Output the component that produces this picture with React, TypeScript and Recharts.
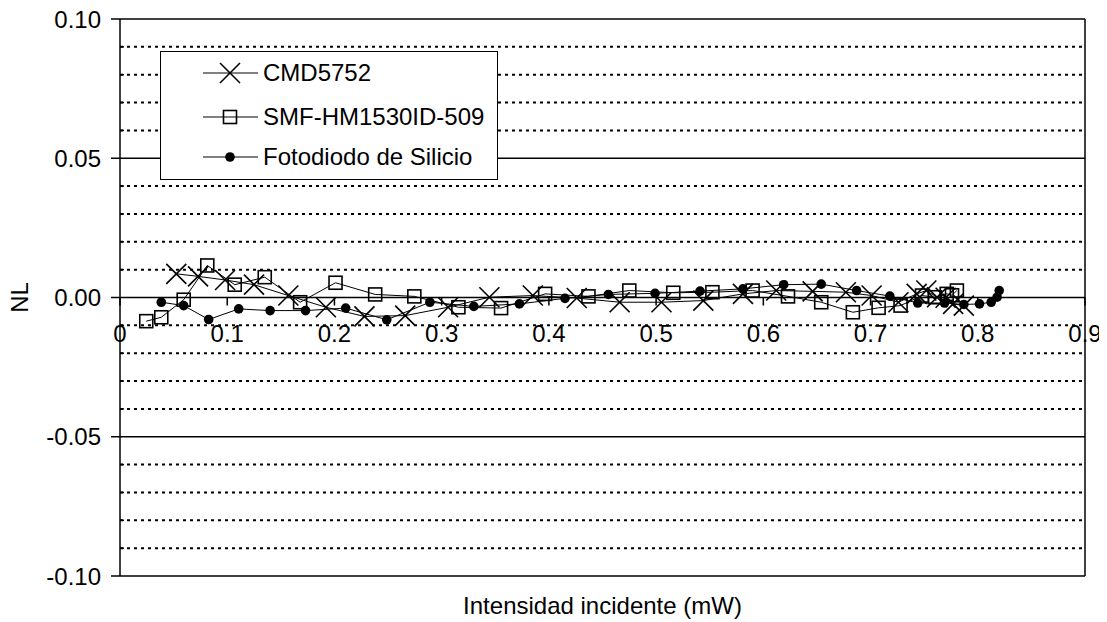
import React from 'react';
import { ComposedChart, Line, XAxis, YAxis, ReferenceLine, Legend } from 'recharts';

const cmd5752 = [
  { x: 0.0525, y: 0.0085 }, { x: 0.0728, y: 0.0076 }, { x: 0.098, y: 0.0063 }, { x: 0.125, y: 0.0046 },
  { x: 0.157, y: 0.0007 }, { x: 0.192, y: -0.0035 }, { x: 0.228, y: -0.0068 }, { x: 0.266, y: -0.0065 },
  { x: 0.306, y: -0.0035 }, { x: 0.3445, y: 0.0001 }, { x: 0.385, y: 0.0007 }, { x: 0.426, y: -0.0002 },
  { x: 0.466, y: -0.0017 }, { x: 0.505, y: -0.0017 }, { x: 0.544, y: -0.0011 }, { x: 0.581, y: 0.0013 },
  { x: 0.612, y: 0.0025 }, { x: 0.646, y: 0.0022 }, { x: 0.677, y: 0.0019 }, { x: 0.701, y: 0.0007 },
  { x: 0.726, y: -0.0017 }, { x: 0.743, y: 0.0013 }, { x: 0.752, y: 0.0025 }, { x: 0.762, y: 0.0001 },
  { x: 0.77, y: -0.0001 }, { x: 0.777, y: -0.0023 }, { x: 0.787, y: -0.0029 },
];

const smf = [
  { x: 0.0245, y: -0.0085 }, { x: 0.0385, y: -0.0071 }, { x: 0.0594, y: -0.0008 }, { x: 0.0814, y: 0.0115 },
  { x: 0.107, y: 0.0046 }, { x: 0.135, y: 0.0073 }, { x: 0.168, y: -0.0017 }, { x: 0.201, y: 0.0053 },
  { x: 0.238, y: 0.0011 }, { x: 0.2745, y: 0.0004 }, { x: 0.3156, y: -0.0035 }, { x: 0.3554, y: -0.0038 },
  { x: 0.3965, y: 0.0013 }, { x: 0.4369, y: 0.0004 }, { x: 0.475, y: 0.0025 }, { x: 0.516, y: 0.0017 },
  { x: 0.5525, y: 0.0019 }, { x: 0.59, y: 0.0025 }, { x: 0.623, y: 0.0004 }, { x: 0.654, y: -0.0017 },
  { x: 0.6835, y: -0.0053 }, { x: 0.7075, y: -0.0037 }, { x: 0.728, y: -0.0029 }, { x: 0.748, y: 0.0007 },
  { x: 0.76, y: 0.0001 }, { x: 0.771, y: 0.0013 }, { x: 0.776, y: 0.0008 }, { x: 0.7805, y: 0.0025 },
];

const silicio = [
  { x: 0.0385, y: -0.0017 }, { x: 0.0594, y: -0.0029 }, { x: 0.0827, y: -0.0079 }, { x: 0.1107, y: -0.0041 },
  { x: 0.14, y: -0.0047 }, { x: 0.173, y: -0.0047 }, { x: 0.2105, y: -0.0038 }, { x: 0.2488, y: -0.008 },
  { x: 0.289, y: -0.0017 }, { x: 0.33, y: -0.0032 }, { x: 0.3725, y: -0.0023 }, { x: 0.415, y: -0.0003 },
  { x: 0.4555, y: 0.0011 }, { x: 0.499, y: 0.0015 }, { x: 0.541, y: 0.0023 }, { x: 0.581, y: 0.0031 },
  { x: 0.619, y: 0.0046 }, { x: 0.654, y: 0.0048 }, { x: 0.687, y: 0.0025 }, { x: 0.718, y: 0.0005 },
  { x: 0.744, y: -0.002 }, { x: 0.769, y: -0.002 }, { x: 0.787, y: -0.0025 }, { x: 0.8016, y: -0.0023 },
  { x: 0.8125, y: -0.0017 }, { x: 0.818, y: 0.0001 }, { x: 0.82, y: 0.0025 },
];

const xTicks = [0, 0.1, 0.2, 0.3, 0.4, 0.5, 0.6, 0.7, 0.8, 0.9];
const xTickLabels = ['0', '0.1', '0.2', '0.3', '0.4', '0.5', '0.6', '0.7', '0.8', '0.9'];
const yTicks = [
  -0.1, -0.09, -0.08, -0.07, -0.06, -0.05, -0.04, -0.03, -0.02, -0.01, 0,
  0.01, 0.02, 0.03, 0.04, 0.05, 0.06, 0.07, 0.08, 0.09, 0.1,
];
const yMajor = [-0.1, -0.05, 0, 0.05, 0.1];
const yMinorGrid = yTicks.filter((v) => !yMajor.some((m) => Math.abs(m - v) < 1e-9));

const seriesNames = ['CMD5752', 'SMF-HM1530ID-509', 'Fotodiodo de Silicio'];

const FONT = '"Liberation Sans", Arial, sans-serif';
const FS = 24;
const W = 1107;
const H = 622;
const MARGIN = { top: 19, right: 22, bottom: 0, left: 0 };
const Y_AXIS_W = 120;
const X_AXIS_H = 46;
const PLOT_H = H - MARGIN.top - MARGIN.bottom - X_AXIS_H;
const ZERO_Y = MARGIN.top + PLOT_H / 2;

const CrossDot = (props: any) => {
  const { cx, cy } = props;
  if (cx == null || cy == null) return null;
  const s = 10;
  return (
    <g>
      <line x1={cx - s} y1={cy - s} x2={cx + s} y2={cy + s} stroke="#000" strokeWidth={1.6} />
      <line x1={cx - s} y1={cy + s} x2={cx + s} y2={cy - s} stroke="#000" strokeWidth={1.6} />
    </g>
  );
};

const SquareDot = (props: any) => {
  const { cx, cy } = props;
  if (cx == null || cy == null) return null;
  const s = 6.5;
  return <rect x={cx - s} y={cy - s} width={2 * s} height={2 * s} fill="none" stroke="#000" strokeWidth={1.6} />;
};

const CircleDot = (props: any) => {
  const { cx, cy } = props;
  if (cx == null || cy == null) return null;
  return <circle cx={cx} cy={cy} r={4.8} fill="#000" stroke="none" />;
};

const XTick = (props: any) => {
  const { x, payload, index } = props;
  return (
    <g>
      <line x1={x} y1={ZERO_Y} x2={x} y2={ZERO_Y + 8} stroke="#000" strokeWidth={1.5} />
      <text x={x} y={ZERO_Y + 44} textAnchor="middle" fontFamily={FONT} fontSize={FS} fill="#000">
        {xTickLabels[index] ?? String(payload.value)}
      </text>
    </g>
  );
};

const YTick = (props: any) => {
  const { y, payload } = props;
  const v = payload.value as number;
  const isMajor = yMajor.some((m) => Math.abs(m - v) < 1e-9);
  const ax = MARGIN.left + Y_AXIS_W;
  if (isMajor) {
    return (
      <g>
        <line x1={ax - 9} y1={y} x2={ax} y2={y} stroke="#000" strokeWidth={1.5} />
        <text x={ax - 19} y={y + 8.5} textAnchor="end" fontFamily={FONT} fontSize={FS} fill="#000">
          {v.toFixed(2)}
        </text>
      </g>
    );
  }
  return <line x1={ax} y1={y} x2={ax + 4} y2={y} stroke="#000" strokeWidth={1.5} />;
};

const LegendMarker = ({ i }: { i: number }) => {
  if (i === 0) return <CrossDot cx={69} cy={14} />;
  if (i === 1) return <SquareDot cx={69} cy={14} />;
  return <CircleDot cx={69} cy={14} />;
};

const LEG_W = 338;
const LEG_H = 129;

const LegendBox = () => (
  <div
    style={{
      width: LEG_W,
      height: LEG_H,
      border: '1.5px solid #000',
      background: '#fff',
      boxSizing: 'border-box',
      fontFamily: FONT,
      fontSize: FS,
      position: 'relative',
    }}
  >
    {seriesNames.map((n, i) => (
      <div key={n} style={{ position: 'absolute', left: 0, top: 7 + [0, 44, 84][i], height: 28, width: LEG_W - 4 }}>
        <svg width={100} height={28} style={{ position: 'absolute', left: 0, top: 0 }}>
          <line x1={42} y1={14} x2={97} y2={14} stroke="#000" strokeWidth={1} />
          <LegendMarker i={i} />
        </svg>
        <span style={{ position: 'absolute', left: 102, top: 0, lineHeight: '28px', whiteSpace: 'nowrap' }}>{n}</span>
      </div>
    ))}
  </div>
);

export default function App() {
  return (
    <div style={{ margin: '-8px 0 0 -8px', width: W, height: H }}>
      <ComposedChart width={W} height={H} margin={MARGIN}>
        <XAxis
          type="number"
          dataKey="x"
          domain={[0, 0.9]}
          ticks={xTicks}
          height={X_AXIS_H}
          axisLine={false}
          tickLine={false}
          tick={<XTick />}
          interval={0}
          allowDataOverflow
          label={{ value: 'Intensidad incidente (mW)', position: 'insideBottom', offset: 8, fontFamily: FONT, fontSize: FS, fill: '#000' }}
        />
        <YAxis
          type="number"
          domain={[-0.1, 0.1]}
          ticks={yTicks}
          width={Y_AXIS_W}
          axisLine={{ stroke: '#000', strokeWidth: 1.5 }}
          tickLine={false}
          tick={<YTick />}
          interval={0}
          allowDataOverflow
          label={{
            content: (p: any) => {
              const vb = p.viewBox || {};
              const cx = 19;
              const cy = (vb.y ?? 0) + (vb.height ?? 0) / 2;
              return (
                <text x={cx} y={cy} transform={`rotate(-90 ${cx} ${cy})`} textAnchor="middle" dominantBaseline="central" fontFamily={FONT} fontSize={FS} fill="#000">
                  NL
                </text>
              );
            },
          }}
        />
        {yMinorGrid.map((v) => (
          <ReferenceLine key={`mi${v}`} y={v} stroke="#000" strokeWidth={2} strokeDasharray="3 4" />
        ))}
        {yMajor.map((v) => (
          <ReferenceLine key={`ma${v}`} y={v} stroke="#000" strokeWidth={1.5} />
        ))}
        <ReferenceLine x={0.9} stroke="#000" strokeWidth={1.5} />
        <Legend
          layout="horizontal"
          verticalAlign="middle"
          align="center"
          content={() => <LegendBox />}
          wrapperStyle={{ position: 'absolute', left: 160, top: 51, width: LEG_W, height: LEG_H }}
        />
        <Line data={cmd5752} dataKey="y" name={seriesNames[0]} stroke="#000" strokeWidth={1} dot={<CrossDot />} activeDot={false} isAnimationActive={false} />
        <Line data={smf} dataKey="y" name={seriesNames[1]} stroke="#000" strokeWidth={1} dot={<SquareDot />} activeDot={false} isAnimationActive={false} />
        <Line data={silicio} dataKey="y" name={seriesNames[2]} stroke="#000" strokeWidth={1} dot={<CircleDot />} activeDot={false} isAnimationActive={false} />
      </ComposedChart>
    </div>
  );
}
